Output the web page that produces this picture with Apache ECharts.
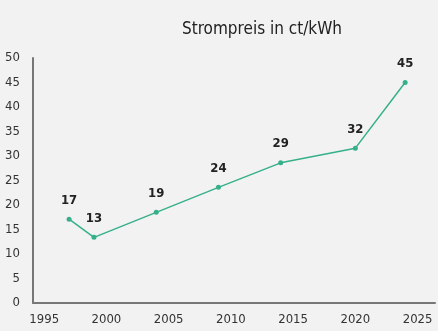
<!DOCTYPE html>
<html>
<head>
<meta charset="utf-8">
<script src="https://cdn.jsdelivr.net/npm/echarts@6/dist/echarts.min.js"></script>
<style>
  html, body { margin: 0; padding: 0; background: #f2f2f2; }
  #chart { width: 438px; height: 331px; }
</style>
</head>
<body>
<div id="chart"></div>
<script>
// Electricity price per year (ct/kWh)
const years = [1997, 1999, 2004, 2009, 2014, 2020, 2024];
const prices = [17.1, 13.4, 18.5, 23.6, 28.6, 31.6, 45];
const yearTicks = [1995, 2000, 2005, 2010, 2015, 2020, 2025];
const priceTicks = [0, 5, 10, 15, 20, 25, 30, 35, 40, 45, 50];

const FONT = "'DejaVu Sans Condensed', 'Liberation Sans Narrow', sans-serif";
const GREEN = '#35b08a';

const chart = echarts.init(document.getElementById('chart'));
chart.setOption({
  backgroundColor: '#f2f2f2',
  animation: false,
  title: {
    text: 'Strompreis in ct/kWh',
    left: 177,
    top: 16,
    textStyle: { fontFamily: FONT, fontSize: 17, fontWeight: 'normal', color: '#222' }
  },
  grid: { left: 33, right: 3, top: 58, bottom: 28, containLabel: false },
  xAxis: {
    type: 'value',
    min: 1994.1,
    max: 2026.4,
    splitLine: { show: false },
    axisLine: { show: true, lineStyle: { color: '#777', width: 2 } },
    axisTick: { show: false },
    axisLabel: {
      customValues: yearTicks,
      margin: 10,
      fontFamily: FONT, fontSize: 13, color: '#333',
      formatter: v => String(v)
    }
  },
  yAxis: {
    type: 'value',
    min: 0,
    max: 50,
    splitLine: { show: false },
    axisLine: { show: true, lineStyle: { color: '#777', width: 2 } },
    axisTick: { show: false },
    axisLabel: {
      customValues: priceTicks,
      margin: 13,
      fontFamily: FONT, fontSize: 13, color: '#333'
    }
  },
  series: [{
    type: 'line',
    data: years.map((y, i) => [y, prices[i]]),
    symbol: 'circle',
    symbolSize: 5,
    lineStyle: { color: GREEN, width: 1.5 },
    itemStyle: { color: GREEN },
    label: {
      show: true,
      position: 'top',
      distance: 10,
      fontFamily: FONT, fontSize: 13, fontWeight: 'bold', color: '#222',
      formatter: p => String(Math.round(p.value[1]))
    }
  }]
});
</script>
</body>
</html>
